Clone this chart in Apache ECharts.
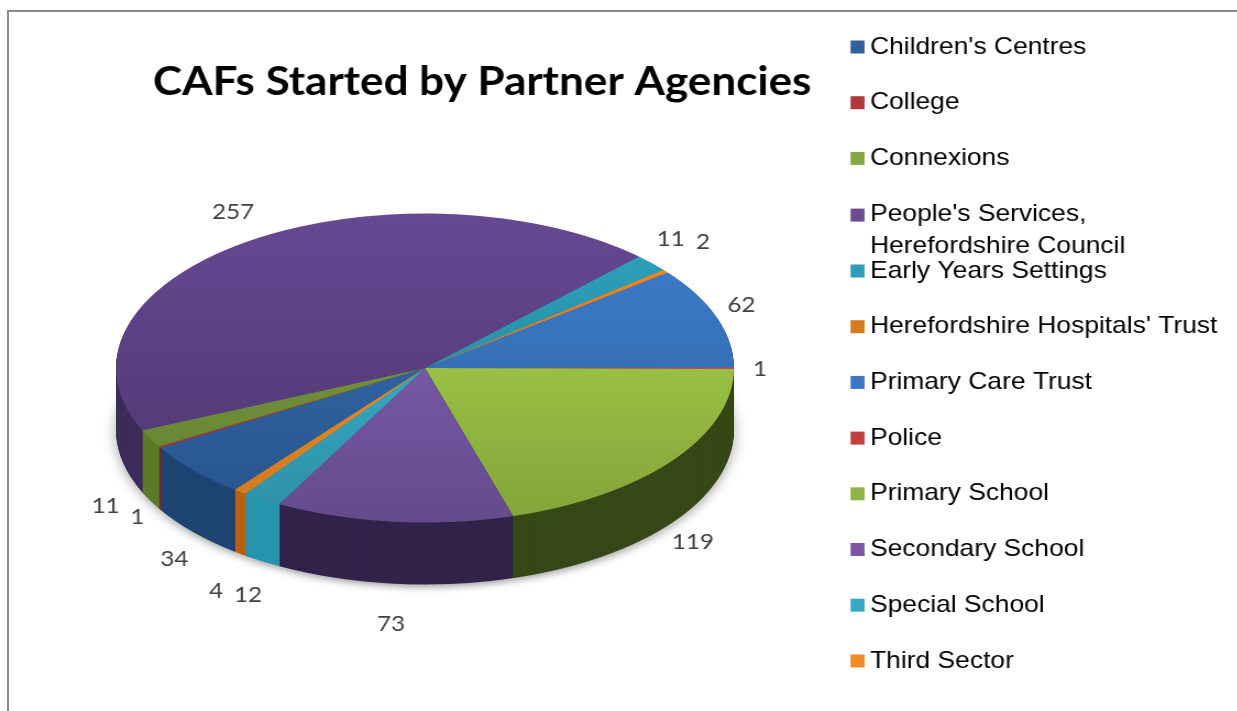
<!DOCTYPE html>
<html><head><meta charset="utf-8">
<script src="https://cdn.jsdelivr.net/npm/echarts@6/dist/echarts.min.js"></script>
<style>
html,body{margin:0;padding:0;width:1237px;height:711px;overflow:hidden;background:#fff}
#frame{position:absolute;left:7px;top:10px;width:1300px;height:800px;border-left:2px solid #8a8a8a;border-top:2px solid #8a8a8a}
#pie{position:absolute;left:0;top:0;width:1237px;height:1422px;transform:scaleY(0.5);transform-origin:0 0}
#main{position:absolute;left:0;top:0;width:1125px;height:711px;transform:scaleX(1.1);transform-origin:0 0}
</style></head><body>
<div id="frame"></div><div id="pie"></div><div id="main"></div>
<script>
// ---- data ----
const categories = ["Children's Centres", "College", "Connexions", "People's Services, Herefordshire Council",
  "Early Years Settings", "Herefordshire Hospitals' Trust", "Primary Care Trust", "Police",
  "Primary School", "Secondary School", "Special School", "Third Sector"];
const values = [34, 1, 11, 257, 11, 2, 62, 1, 119, 73, 12, 4];
const chartTitle = "CAFs Started by Partner Agencies";

// ---- styles ----
const topColors  = ['#2E62A0','#A83A37','#71903A','#5A3F80','#2A8FA6','#E0781C','#3670B5','#C0504D','#98BF44','#7657A3','#35A6C1','#F08A24'];
const wallColors = ['#1E4472','#7A2826','#5B7B29','#3E2C5A','#1E7A8E','#A8560F','#29578F','#8A3230','#364817','#31234A','#2595AD','#BA6110'];
const legendColors = ['#2F5F9C','#B03A37','#83A840','#6B4C93','#2F9CB8','#D8791F','#3A78C3','#C23F3C','#8DB446','#7A55A5','#37A7C6','#F08A24'];

const PIE = {cx: 425, cy: 368, r: 309, depth: 62, start: 232};
const SX = 1.1; // horizontal stretch of the text layer

function shade(hex, f) {
  const n = parseInt(hex.slice(1), 16);
  const c = [(n >> 16) & 255, (n >> 8) & 255, n & 255].map(v => Math.max(0, Math.min(255, Math.round(v * f))));
  return 'rgb(' + c.join(',') + ')';
}

// ---- 3D pie body (drawn squashed vertically by CSS) ----
const pieChart = echarts.init(document.getElementById('pie'));
const cyU = PIE.cy * 2;
const pieSeries = [];
function pieLayer(centerY, colorFn, extraStyle) {
  return {
    type: 'pie', silent: true, animation: false, startAngle: PIE.start, clockwise: true,
    center: [PIE.cx, centerY], radius: [0, PIE.r], avoidLabelOverlap: false,
    label: {show: false}, labelLine: {show: false}, emphasis: {disabled: true},
    itemStyle: Object.assign({borderWidth: 0}, extraStyle || {}),
    data: categories.map((n, i) => ({name: n, value: values[i], itemStyle: {color: colorFn(i)}}))
  };
}
for (let d = PIE.depth * 2; d > 0; d -= 2) {
  pieSeries.push(pieLayer(cyU + d, i => wallColors[i],
    d === PIE.depth * 2 ? {shadowBlur: 14, shadowColor: 'rgba(0,0,0,0.35)', shadowOffsetY: 6} : null));
}
pieSeries.push(pieLayer(cyU, i => ({
  type: 'linear', x: 0, y: cyU - PIE.r, x2: 0, y2: cyU + PIE.r, global: true,
  colorStops: [{offset: 0, color: shade(topColors[i], 1.15)}, {offset: 1, color: shade(topColors[i], 0.86)}]
})));
pieChart.setOption({animation: false, series: pieSeries});

// ---- label positions on the ellipse (computed from the data) ----
const total = values.reduce((a, b) => a + b, 0);
const placed = [];
let cum = 0;
const labelPos = values.map((v, i) => {
  const mid = (PIE.start - (cum + v / 2) / total * 360) * Math.PI / 180;
  cum += v;
  const c = Math.cos(mid), s = Math.sin(mid);
  const w = String(v).length * 14 + 10, h = 20;
  let extra = 0, x, y;
  for (let k = 0; k < 80; k++) {
    x = PIE.cx + (PIE.r + 26 + extra) * c;
    y = s >= 0
      ? PIE.cy - (PIE.r / 2 + 36 + extra * 0.5) * s
      : PIE.cy - (PIE.r / 2 + 40 + extra * 0.5) * s + PIE.depth * Math.min(1, -s / 0.65);
    if (!placed.some(b => Math.abs(b[0] - x) < (b[2] + w) / 2 && Math.abs(b[1] - y) < (b[3] + h) / 2)) break;
    extra += 2;
  }
  placed.push([x, y, w, h]);
  return [x, y];
});

// ---- title, legend, labels ----
const main = echarts.init(document.getElementById('main'));
const legendFont = {fontFamily: 'Liberation Sans', fontSize: 24, color: '#000'};
function legendBlock(items, top) {
  return {
    orient: 'vertical', left: 773.2, top: top, padding: 0, itemGap: 27.7,
    itemWidth: 14 / SX, itemHeight: 13, icon: 'rect', selectedMode: false,
    data: items.map(i => ({name: categories[i], itemStyle: {color: legendColors[i], opacity: 1, borderWidth: 0}})),
    formatter: name => {
      const parts = name.split(', ');
      return parts.length > 1 ? '{a|' + parts[0] + ',}\n{b|' + parts[1] + '}' : name;
    },
    textStyle: Object.assign({lineHeight: 28}, legendFont, {
      rich: {
        a: Object.assign({lineHeight: 28}, legendFont),
        b: Object.assign({lineHeight: 1, padding: [34, 0, 0, 0]}, legendFont)
      }
    })
  };
}
main.setOption({
  animation: false,
  title: {
    text: chartTitle, left: 153 / SX, top: 62, padding: 0,
    textStyle: {fontFamily: 'Lato', fontWeight: 'bold', fontSize: 40, color: '#000'}
  },
  legend: [legendBlock([0, 1, 2, 3], 33), legendBlock([4, 5, 6, 7, 8, 9, 10, 11], 257)],
  series: [{
    type: 'pie', silent: true, startAngle: PIE.start, clockwise: true,
    center: [PIE.cx / SX, PIE.cy], radius: [0, PIE.r / 2], avoidLabelOverlap: false,
    itemStyle: {color: 'rgba(0,0,0,0)', borderWidth: 0},
    label: {show: true, position: 'outside', formatter: '{c}', fontFamily: 'Lato', fontSize: 22, color: '#404040'},
    labelLine: {show: false},
    labelLayout: p => ({x: labelPos[p.dataIndex][0] / SX, y: labelPos[p.dataIndex][1], align: 'center', verticalAlign: 'middle'}),
    data: categories.map((n, i) => ({name: n, value: values[i]}))
  }]
});
</script></body></html>
